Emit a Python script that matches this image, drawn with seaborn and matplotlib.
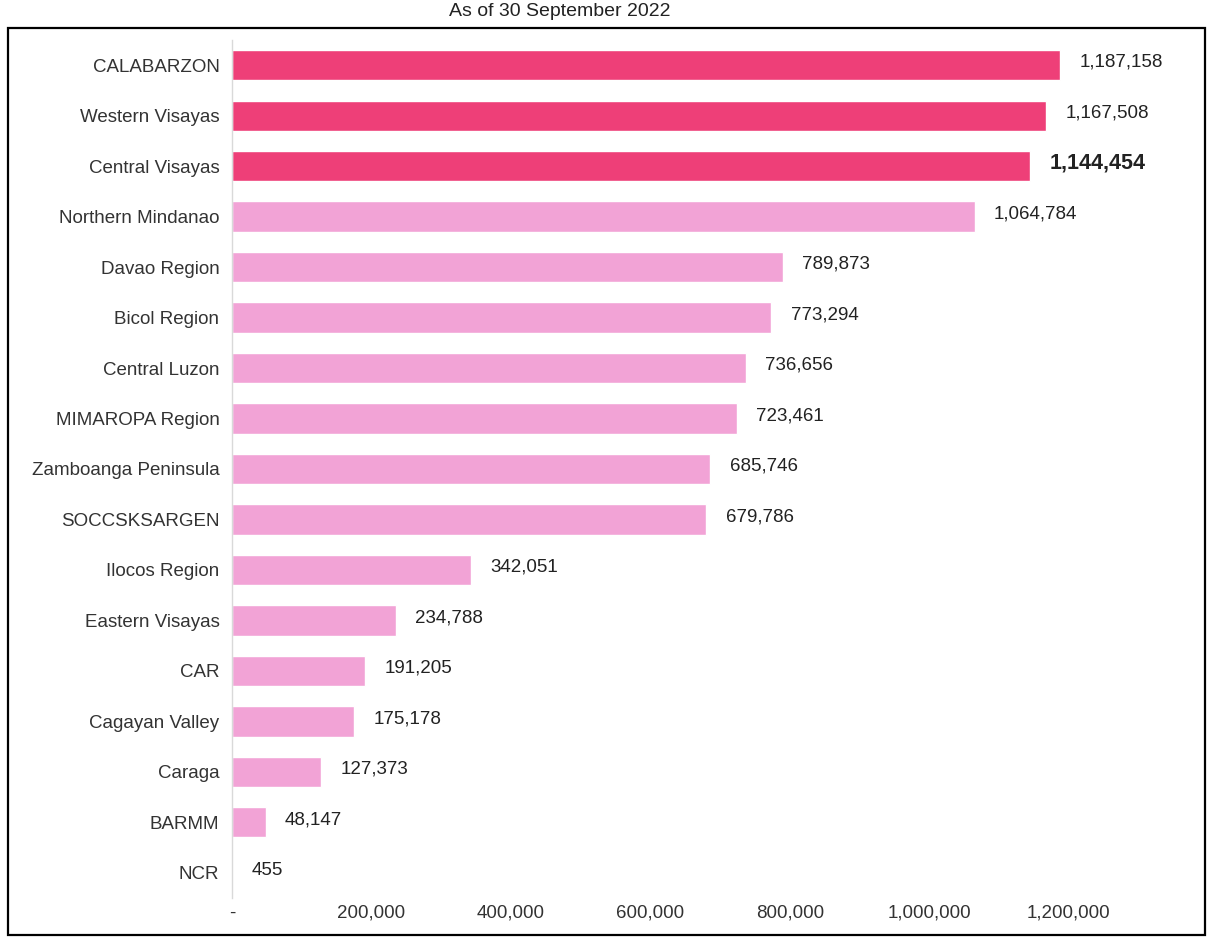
import matplotlib
matplotlib.use("Agg")
import matplotlib.pyplot as plt
import seaborn as sns
import pandas as pd
from matplotlib.patches import Rectangle

# data
regions = ["CALABARZON", "Western Visayas", "Central Visayas", "Northern Mindanao",
           "Davao Region", "Bicol Region", "Central Luzon", "MIMAROPA Region",
           "Zamboanga Peninsula", "SOCCSKSARGEN", "Ilocos Region", "Eastern Visayas",
           "CAR", "Cagayan Valley", "Caraga", "BARMM", "NCR"]
values = [1187158, 1167508, 1144454, 1064784, 789873, 773294, 736656, 723461,
          685746, 679786, 342051, 234788, 191205, 175178, 127373, 48147, 455]
top_regions = ["CALABARZON", "Western Visayas", "Central Visayas"]
bold_region = "Central Visayas"
xticks = [0, 200000, 400000, 600000, 800000, 1000000, 1200000]
xtick_labels = ["-", "200,000", "400,000", "600,000", "800,000", "1,000,000", "1,200,000"]

dark_pink = "#EE3F78"
light_pink = "#F2A3D6"

sns.set_theme(style="white")
plt.rcParams["font.family"] = ["Liberation Sans", "DejaVu Sans"]

df = pd.DataFrame({"region": regions, "value": values})
palette = {r: (dark_pink if r in top_regions else light_pink) for r in regions}

fig = plt.figure(figsize=(12.17, 9.44), dpi=100)
ax = fig.add_axes([0.1906, 0.0487, 0.745, 0.909])

sns.barplot(data=df, y="region", x="value", hue="region", palette=palette,
            order=regions, hue_order=regions, width=0.6, legend=False,
            saturation=1, ax=ax)

for i, (r, v) in enumerate(zip(regions, values)):
    if r == bold_region:
        ax.annotate(f"{v:,}", (v, i), xytext=(14, 2), textcoords="offset points",
                    va="center", ha="left", fontsize=15.5, fontweight="bold", color="#222222")
    else:
        ax.annotate(f"{v:,}", (v, i), xytext=(14, 2), textcoords="offset points",
                    va="center", ha="left", fontsize=13.5, color="#222222")

ax.set_xlim(0, 1300000)
ax.set_ylim(len(regions) - 0.5, -0.5)
ax.set_xticks(xticks)
ax.set_xticklabels(xtick_labels)
ax.tick_params(axis="x", length=0, labelsize=13.5, labelcolor="#333333", pad=5)
ax.tick_params(axis="y", length=0, labelsize=13.5, labelcolor="#333333", pad=9)
ax.set_xlabel("")
ax.set_ylabel("")
for s in ["top", "right", "bottom"]:
    ax.spines[s].set_visible(False)
ax.spines["left"].set_color("#d9d9d9")
ax.spines["left"].set_linewidth(1)

# outer frame and subtitle above it
fig.patches.append(Rectangle((8 / 1217, 9 / 944), 1197 / 1217, 907 / 944,
                             transform=fig.transFigure, fill=False,
                             edgecolor="black", linewidth=1.6))
fig.text(0.46, 1 - 3 / 944, "As of 30 September 2022", ha="center", va="top",
         fontsize=14, color="#222222")

fig.savefig("out.png", dpi=100)
